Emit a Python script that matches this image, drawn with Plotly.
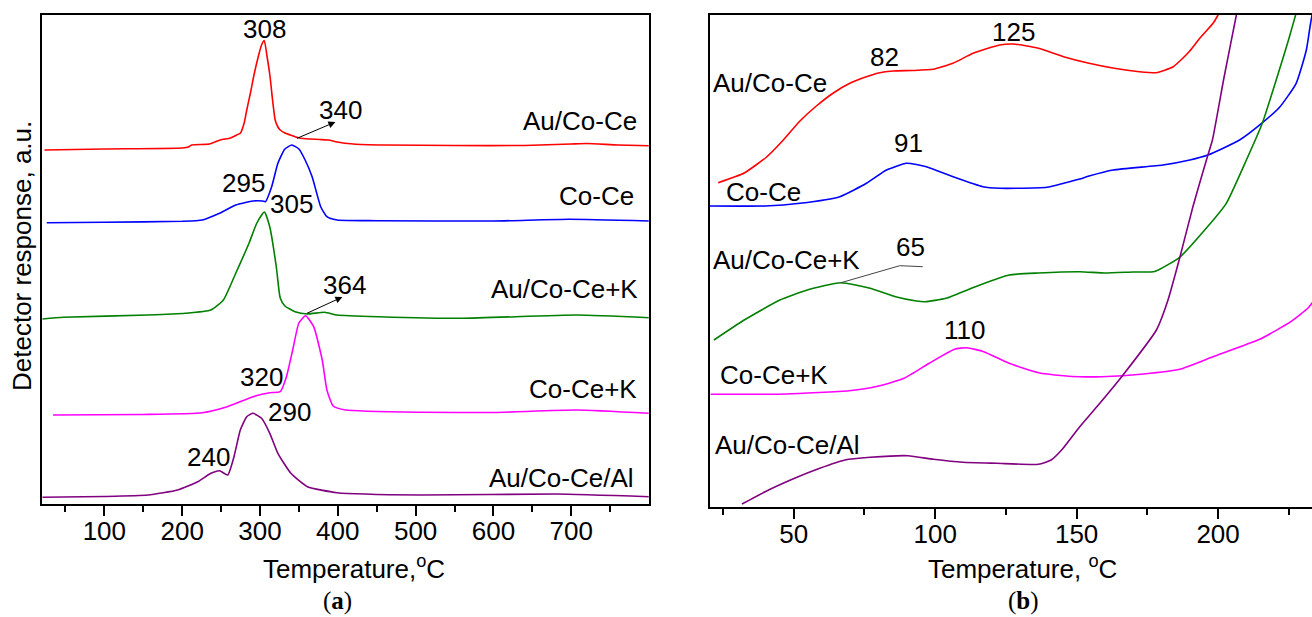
import plotly.graph_objects as go

W, H = 1312, 617

# ---------------- Panel (a) data: temperature (°C) vs detector response (a.u.) ----------------
a_red_T = [23, 100, 200, 208, 212, 235, 249, 262, 270, 275, 280, 283, 288, 292, 298, 302, 305.5, 309, 313, 316,
           319.5, 323, 326, 332, 339, 346, 352, 365, 377, 388, 399, 420, 460, 550, 640, 700, 720, 760, 800]
a_red_y = [354, 355, 356, 357, 359, 360, 364, 366, 369, 371, 382, 394, 412, 428, 448, 459, 463.5, 448, 427, 405,
           384, 377, 374, 371, 369, 367, 365.7, 365, 364.5, 364, 362, 360, 359, 358.5, 358.5, 360, 360.5, 359, 358.3]

a_blue_T = [26, 100, 200, 226, 248, 269, 291, 303, 307, 315, 323, 332, 341, 350, 358, 367, 378, 386, 399, 450,
            600, 697, 800]
a_blue_y = [281.3, 281.7, 282.7, 284, 290.7, 299, 303, 303, 302.3, 317.3, 340.7, 355, 359, 355, 344, 327.3, 297.3,
            287.3, 284, 283.3, 283, 284.7, 283]

a_green_T = [20.5, 47.5, 155.7, 204, 237, 253, 269, 286, 296, 305.6, 312.6, 321, 326, 332, 345, 361, 383, 399, 453,
             560, 707, 800]
a_green_y = [185, 186.7, 189, 190.7, 194, 204, 231, 261, 281, 292, 277, 237, 206, 198, 192.3, 190, 191.7, 189, 187.3,
             185.7, 189, 186.3]

a_mag_T = [34, 150, 226, 258, 291, 312.6, 326, 334, 342, 350, 358.6, 369, 380, 386, 394, 410, 507, 600, 707, 800]
a_mag_y = [89, 89.5, 91.3, 97.3, 107.3, 111.3, 112.3, 127.3, 154, 181, 188.3, 177.3, 144, 114, 98, 94, 91.7, 91.5,
           94, 90.7]

a_pur_T = [20.5, 100, 156, 194, 220, 237, 248, 258.5, 266.6, 274.7, 283, 291, 302, 312.6, 323, 339.7, 361, 399, 507,
           680, 800]
a_pur_y = [6.7, 7.5, 9, 14, 22.3, 30.7, 33.3, 29, 47.3, 74, 87.3, 90.7, 85.7, 70.7, 50.7, 30.7, 17.3, 11.3, 9, 10, 7.3]

# ---------------- Panel (b) data ----------------
b_red_T = [23.3, 32.5, 40.4, 46, 52.2, 58, 64, 70, 75.7, 80, 85.1, 92, 99.3, 106.3, 113.4, 122.8, 127.6, 136.5,
           145.4, 154.4, 163.3, 172.2, 178.1, 184, 186.5, 190, 193.6, 198.3, 199.8, 202]
b_red_y = [324.3, 334, 350, 366, 386, 401, 414, 424, 430.3, 434, 436, 436.5, 437.7, 443.7, 453.7, 462, 463, 458.7,
           450.3, 443.7, 438.7, 435.3, 434.3, 440, 446, 456, 469, 484, 491, 502]

b_blue_T = [20.4, 39.9, 52.2, 66.3, 75.7, 82.8, 89.9, 96.9, 106.3, 116.9, 122.8, 129, 139.5, 145.4, 151.1, 154.4,
            162.9, 180.5, 190, 196.4, 207.6, 215.7, 221.9, 227.6, 231.2, 232.6, 234]
b_blue_y = [301, 301, 303.7, 310.3, 323.7, 337, 343.7, 340.3, 330.3, 320.3, 318.7, 318.7, 319.7, 323.7, 328, 331,
            337, 342, 347, 352, 367, 384.3, 400.3, 423.7, 457, 482, 505]

b_green_T = [21.8, 32.5, 45.1, 54.8, 66.6, 77, 86, 93.4, 96.4, 103.8, 114.2, 126.1, 136.5, 151.1, 160, 170, 177.6,
             186.4, 195.8, 202.9, 210, 215.7, 222, 225, 227.3, 229]
b_green_y = [167, 187, 207, 217, 224.3, 218.7, 210.3, 206, 205.3, 208.7, 220.3, 232, 234, 235.3, 234, 235, 235.5,
             249.7, 278.7, 303.7, 347, 384.3, 440.3, 468, 491, 506]

b_mag_T = [20.6, 47.3, 69.6, 80, 89, 97.9, 106.8, 111.2, 117.2, 126.1, 136.5, 145.4, 151.1, 158.8, 173.7, 186.4,
           198.2, 214.7, 225.7, 231.7, 233.5]
b_mag_y = [112.7, 113, 116.3, 121, 128.7, 143.7, 157.7, 159.3, 155.3, 143.7, 134.3, 131.3, 130.3, 130.3, 133, 137.7,
           150.3, 167.7, 185.3, 198.7, 205]

b_pur_T = [31.7, 39.9, 50.3, 59.2, 68.1, 77.1, 90.4, 99.4, 109.8, 121.7, 136.5, 141, 145, 151.1, 158.2, 166.4, 178.2,
           182.3, 186.4, 191.1, 196.4, 198, 202, 206.4, 208.5]
b_pur_y = [3, 15.3, 28.7, 38.7, 47, 49.7, 51.3, 47.7, 44.7, 43.7, 42.7, 47, 58, 80.3, 103.7, 132, 177, 207, 248.7,
           300.3, 352, 367, 428, 491, 520]

# pointer line for the "65" label in panel (b)
b_ptr_T = [66.7, 87.5, 95.6]
b_ptr_y = [224.3, 241.3, 240.3]

a_ticks = [100, 200, 300, 400, 500, 600, 700]
b_ticks = [50, 100, 150, 200]

series_names = ["Au/Co-Ce", "Co-Ce", "Au/Co-Ce+K", "Co-Ce+K", "Au/Co-Ce/Al"]
colors = ["#FF0000", "#0000FF", "#008000", "#FF00FF", "#800080"]

FONT = "Liberation Sans, Arial, Helvetica, sans-serif"
FS = 26

fig = go.Figure()


def add_line(xs, ys, color, xa, ya, width=1.6):
    fig.add_trace(go.Scatter(x=xs, y=ys, mode="lines",
                             line=dict(color=color, width=width, shape="spline", smoothing=0.5),
                             xaxis=xa, yaxis=ya, showlegend=False, hoverinfo="skip"))


a_sets = [(a_red_T, a_red_y), (a_blue_T, a_blue_y), (a_green_T, a_green_y), (a_mag_T, a_mag_y), (a_pur_T, a_pur_y)]
b_sets = [(b_red_T, b_red_y), (b_blue_T, b_blue_y), (b_green_T, b_green_y), (b_mag_T, b_mag_y), (b_pur_T, b_pur_y)]
for (xs, ys), c in zip(a_sets, colors):
    add_line(xs, ys, c, "x", "y")
for (xs, ys), c in zip(b_sets, colors):
    add_line(xs, ys, c, "x2", "y2")

fig.add_trace(go.Scatter(x=b_ptr_T, y=b_ptr_y, mode="lines", line=dict(color="#444444", width=1),
                         xaxis="x2", yaxis="y2", showlegend=False, hoverinfo="skip"))

axis_common = dict(showline=True, linecolor="black", linewidth=2, showgrid=False, zeroline=False)

fig.update_layout(
    width=W, height=H,
    margin=dict(l=0, r=0, t=0, b=0),
    paper_bgcolor="white", plot_bgcolor="white",
    font=dict(family=FONT, size=FS, color="black"),
    xaxis=dict(domain=[41.7 / W, 648.7 / W], range=[19.5, 799.5], anchor="y", mirror=True,
               ticks="outside", ticklen=10, tickwidth=1.5, tickcolor="black",
               tickmode="array", tickvals=a_ticks, ticklabelstandoff=-7,
               minor=dict(ticks="outside", ticklen=6, tickwidth=1.5, tickcolor="black", dtick=50, tick0=0),
               tickfont=dict(size=FS), **axis_common),
    yaxis=dict(domain=[1 - 504 / H, 1 - 15 / H], range=[0, 489], anchor="x", mirror=True,
               showticklabels=False, ticks="", **axis_common),
    xaxis2=dict(domain=[709.7 / W, 1.0], range=[20.3, 233.2], anchor="y2", mirror=True,
                ticks="outside", ticklen=10, tickwidth=1.5, tickcolor="black",
                tickmode="array", tickvals=b_ticks, ticklabelstandoff=-7,
                minor=dict(ticks="outside", ticklen=6, tickwidth=1.5, tickcolor="black", dtick=25, tick0=0),
                tickfont=dict(size=FS), **axis_common),
    yaxis2=dict(domain=[1 - 507 / H, 1 - 15 / H], range=[0, 492], anchor="x2", mirror=False,
                showticklabels=False, ticks="", **axis_common),
)

ann = []


def txt(text, x, y, xref, yref, xanchor="center", size=FS, font=FONT, angle=0):
    ann.append(dict(text=text, x=x, y=y, xref=xref, yref=yref, xanchor=xanchor, yanchor="middle",
                    showarrow=False, textangle=angle, font=dict(size=size, family=font, color="black")))


# panel (a) peak labels
for t, x, y in [("308", 305.7, 475), ("340", 403.3, 394), ("295", 278.7, 321), ("305", 340.4, 300),
                ("364", 408.5, 219), ("320", 301.8, 127), ("290", 338.4, 92), ("240", 233.7, 47)]:
    txt(t, x, y, "x", "y")
# panel (a) series labels (right aligned)
for name, x, y in zip(series_names, [786.4, 783, 788, 787, 783], [383, 308, 215, 115, 26]):
    txt(name, x, y, "x", "y", xanchor="right")

# panel (b) series labels (left aligned)
for name, x, y in zip(series_names, [20.9, 25.3, 20.9, 23.1, 21.3], [424, 315.3, 247, 132, 62]):
    txt(name, x, y, "x2", "y2", xanchor="left")
for t, x, y in [("125", 127.6, 475.3), ("82", 82.2, 449.7), ("91", 90.4, 363.7), ("65", 91.2, 260.3),
                ("110", 110.5, 177)]:
    txt(t, x, y, "x2", "y2")

# arrows in panel (a)
for hx, hy, tx, ty in [(396.9, 382, 345.5, 365), (405.9, 207, 358.4, 190)]:
    ann.append(dict(text="", x=hx, y=hy, ax=tx, ay=ty, xref="x", yref="y", axref="x", ayref="y",
                    showarrow=True, arrowhead=2, arrowsize=1.4, arrowwidth=1, arrowcolor="black", standoff=0))

# axis titles and panel captions
txt("Detector response, a.u.", 22 / W, 1 - 256 / H, "paper", "paper", angle=-90)
txt("Temperature,<sup>o</sup>C", 354 / W, 1 - 567 / H, "paper", "paper")
txt("Temperature, <sup>o</sup>C", 1022 / W, 1 - 567 / H, "paper", "paper")
txt("(<b>a</b>)", 337 / W, 1 - 601 / H, "paper", "paper", size=25, font="Liberation Serif, Times New Roman, serif")
txt("(<b>b</b>)", 1023 / W, 1 - 601 / H, "paper", "paper", size=25, font="Liberation Serif, Times New Roman, serif")

fig.update_layout(annotations=ann)

fig.write_html("out.html", config={"displayModeBar": False},
               post_script="document.body.style.margin='0';document.body.style.overflow='hidden';")
